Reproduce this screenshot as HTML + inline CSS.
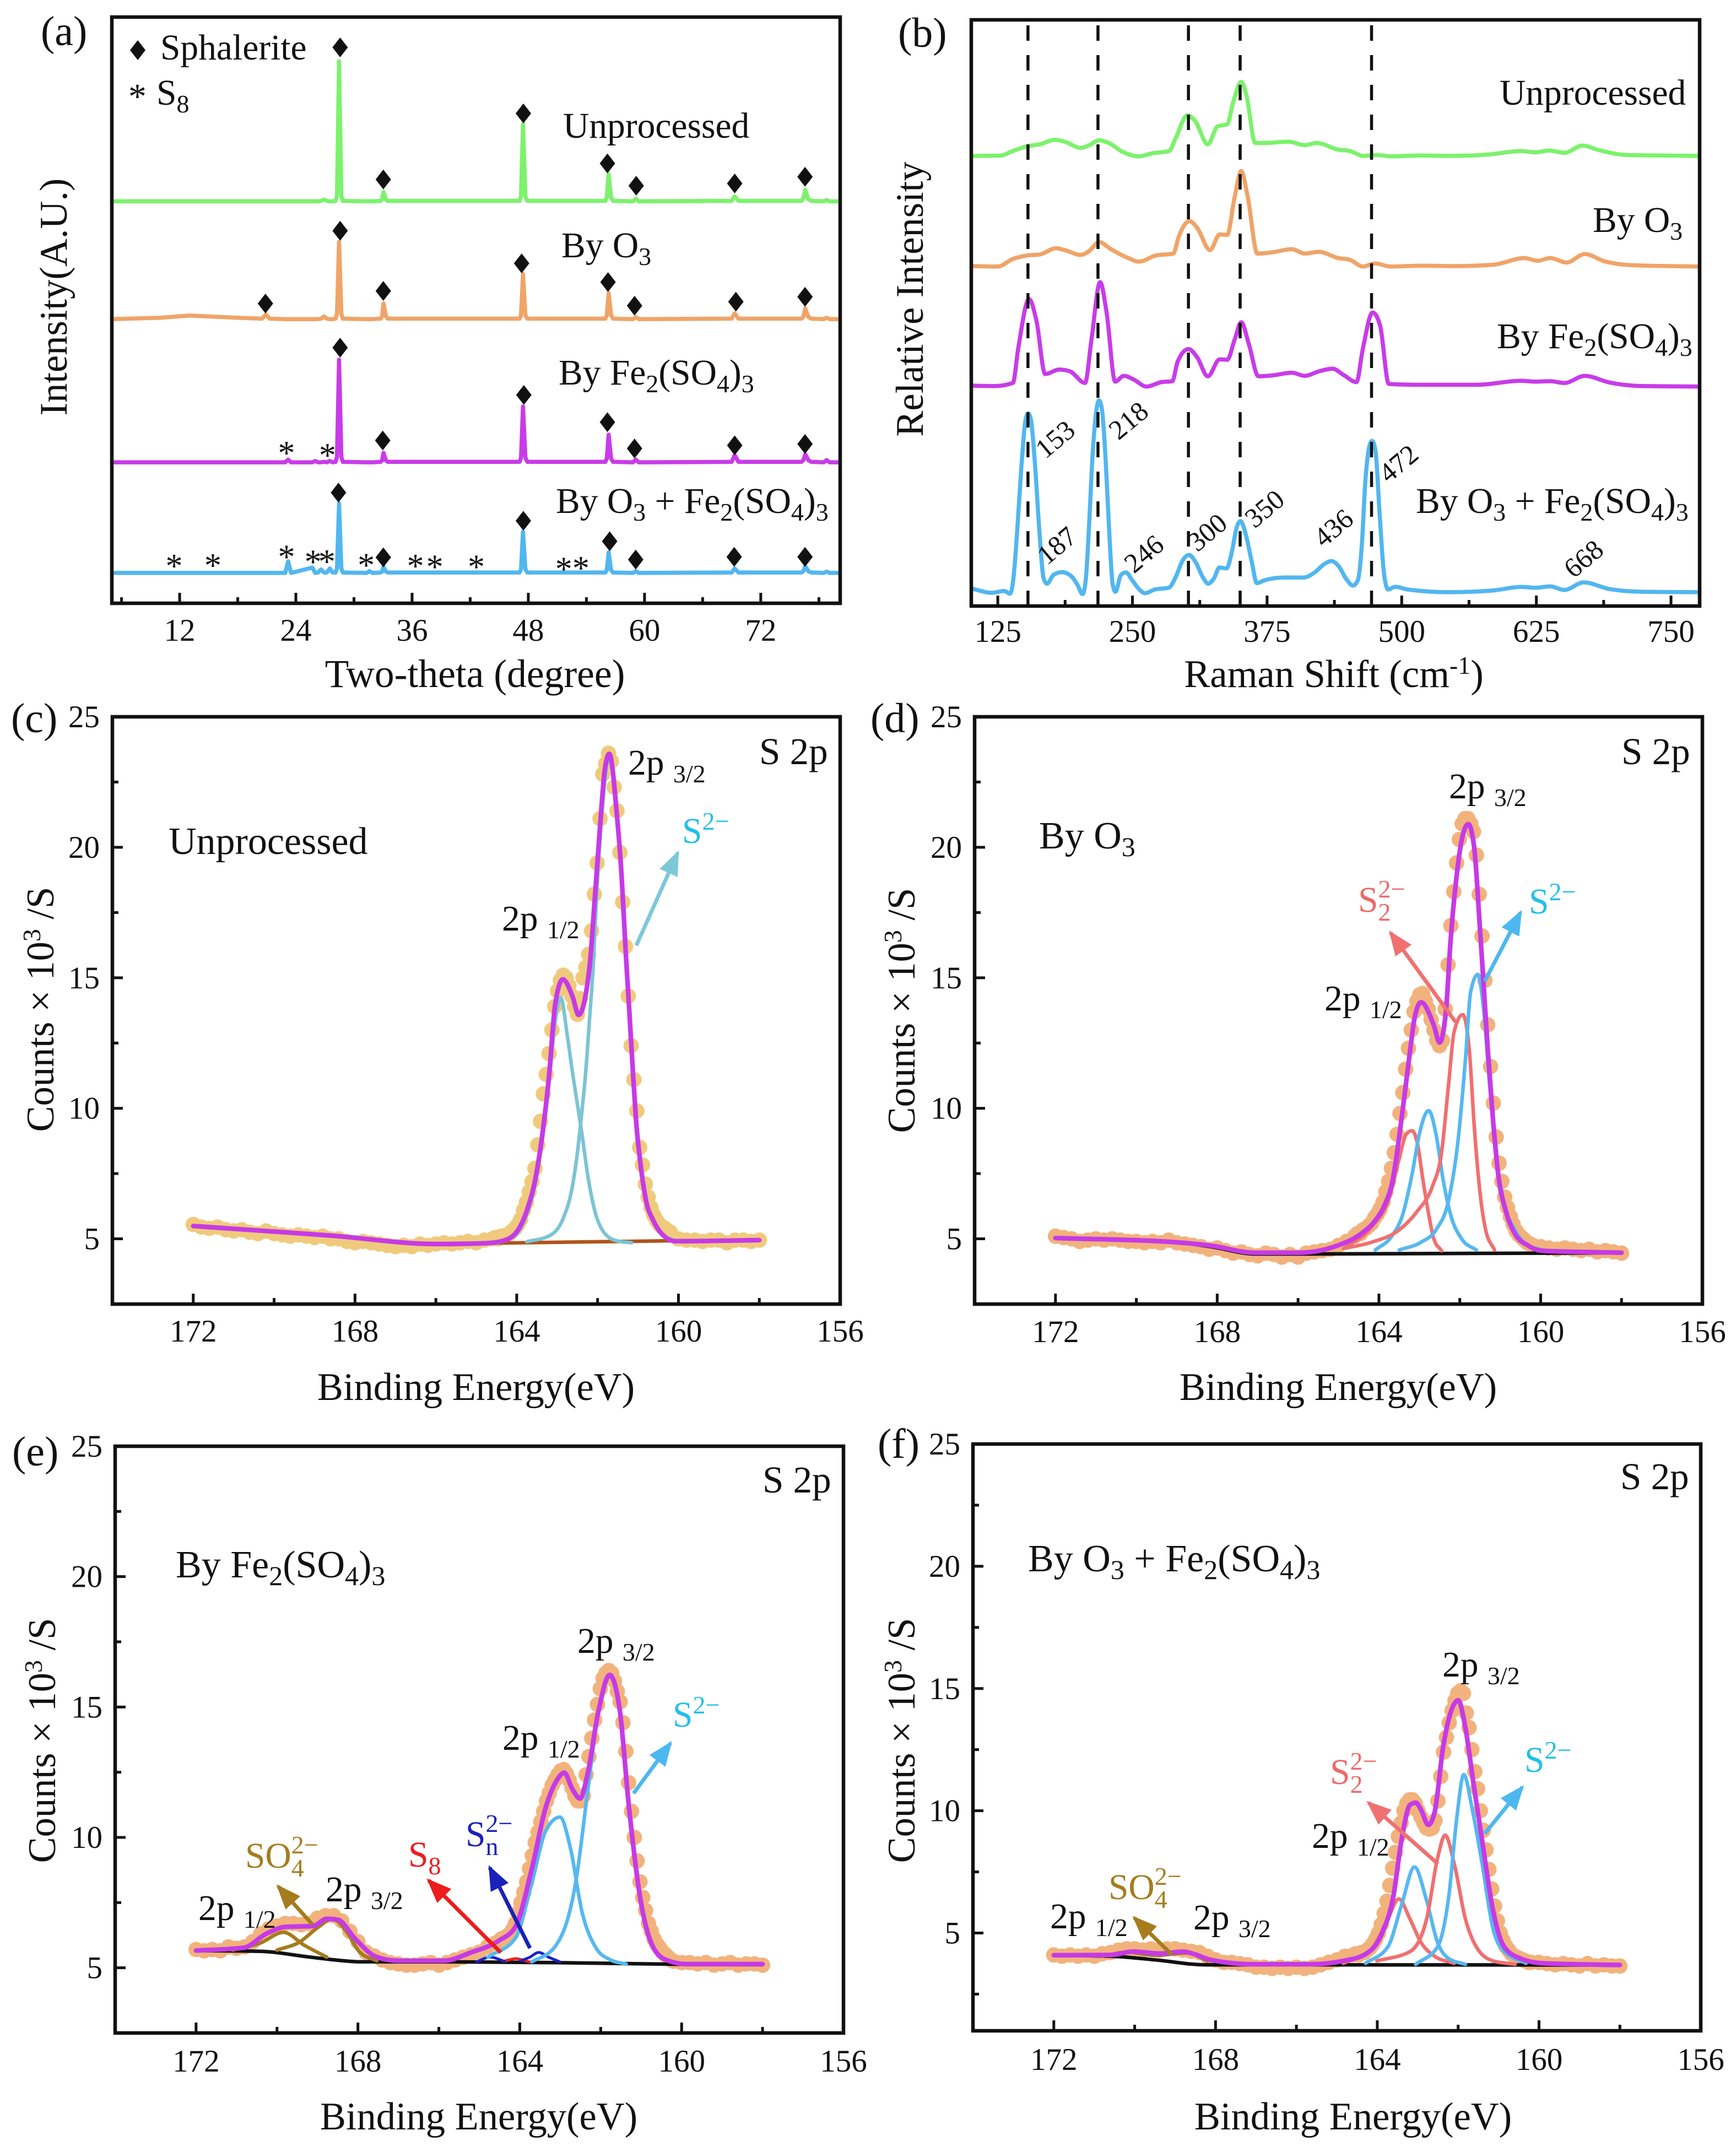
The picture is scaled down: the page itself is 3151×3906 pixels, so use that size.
<!DOCTYPE html>
<html lang="en">
<head>
<meta charset="utf-8">
<title>XRD, Raman and XPS comparison of sphalerite samples</title>
<style>
html,body{margin:0;padding:0;background:#fff;}
svg{display:block;}
text{font-family:"Liberation Serif",serif;fill:#111;}
.tick{font-size:57px;}
.title{font-size:70.5px;}
.note{font-size:65.5px;}
.sm{font-size:46px;}
.peak{font-size:50px;}
.panel{font-size:76px;}
.sample{font-size:70px;}
.sample .sm{font-size:50px;}
.s2p{font-size:69px;}
</style>
</head>
<body>
<svg id="figure" xmlns="http://www.w3.org/2000/svg" width="3151" height="3906" viewBox="0 0 3151 3906">
<defs>
<marker id="head-cyan" markerUnits="userSpaceOnUse" markerWidth="50" markerHeight="40" refX="40" refY="18" orient="auto"><path d="M0 0L45 18L0 36Z" fill="#7CC8D8"/></marker>
<marker id="head-blue" markerUnits="userSpaceOnUse" markerWidth="50" markerHeight="40" refX="40" refY="18" orient="auto"><path d="M0 0L45 18L0 36Z" fill="#4CB8F0"/></marker>
<marker id="head-pink" markerUnits="userSpaceOnUse" markerWidth="50" markerHeight="40" refX="40" refY="18" orient="auto"><path d="M0 0L45 18L0 36Z" fill="#F07070"/></marker>
<marker id="head-red" markerUnits="userSpaceOnUse" markerWidth="50" markerHeight="40" refX="40" refY="18" orient="auto"><path d="M0 0L45 18L0 36Z" fill="#EE1C1C"/></marker>
<marker id="head-navy" markerUnits="userSpaceOnUse" markerWidth="50" markerHeight="40" refX="40" refY="18" orient="auto"><path d="M0 0L45 18L0 36Z" fill="#1A22B8"/></marker>
<marker id="head-brown" markerUnits="userSpaceOnUse" markerWidth="50" markerHeight="40" refX="40" refY="18" orient="auto"><path d="M0 0L45 18L0 36Z" fill="#A57C1E"/></marker>
</defs>
<rect x="0" y="0" width="3151" height="3906" fill="#fff"/>

<!-- Panel a -->
<g id="panel-a">
<g id="a-marks"></g>
<rect x="203" y="31" width="1322" height="1064" fill="none" stroke="#111" stroke-width="6.5"/>
<g id="a-ticks"></g>
<text class="panel" x="74" y="82">(a)</text>
<text class="title" style="font-size:71.5px" x="862" y="1247" text-anchor="middle">Two-theta (degree)</text>
<text class="title" transform="translate(121 539) rotate(-90)" text-anchor="middle">Intensity(A.U.)</text>
<polygon points="250,73 264,91 250,109 236,91" fill="#111"/>
<text class="note" x="291" y="108">Sphalerite</text>
<text class="note" x="233" y="197">*</text>
<text class="note" x="284" y="190">S<tspan class="sm" dy="14">8</tspan></text>
<text class="note" x="1022" y="250">Unprocessed</text>
<text class="note" x="1019" y="467">By O<tspan class="sm" dy="14">3</tspan></text>
<text class="note" x="1014" y="698">By Fe<tspan class="sm" dy="14">2</tspan><tspan dy="-14">(SO</tspan><tspan class="sm" dy="14">4</tspan><tspan dy="-14">)</tspan><tspan class="sm" dy="14">3</tspan></text>
<text class="note" x="1009" y="931">By O<tspan class="sm" dy="14">3</tspan><tspan dy="-14"> + Fe</tspan><tspan class="sm" dy="14">2</tspan><tspan dy="-14">(SO</tspan><tspan class="sm" dy="14">4</tspan><tspan dy="-14">)</tspan><tspan class="sm" dy="14">3</tspan></text>
</g>

<!-- Panel b -->
<g id="panel-b">
<g id="b-marks"></g>
<rect x="1763" y="36" width="1322" height="1064" fill="none" stroke="#111" stroke-width="6.5"/>
<g id="b-ticks"></g>
<text class="panel" x="1630" y="85">(b)</text>
<text class="title" x="2421" y="1247" text-anchor="middle">Raman Shift (cm<tspan class="sm" dy="-24">-1</tspan><tspan dy="24">)</tspan></text>
<text class="title" transform="translate(1675 543) rotate(-90)" text-anchor="middle">Relative Intensity</text>
<text class="note" x="2722" y="190">Unprocessed</text>
<text class="note" x="2891" y="421">By O<tspan class="sm" dy="14">3</tspan></text>
<text class="note" x="2717" y="632">By Fe<tspan class="sm" dy="14">2</tspan><tspan dy="-14">(SO</tspan><tspan class="sm" dy="14">4</tspan><tspan dy="-14">)</tspan><tspan class="sm" dy="14">3</tspan></text>
<text class="note" x="2570" y="931">By O<tspan class="sm" dy="14">3</tspan><tspan dy="-14"> + Fe</tspan><tspan class="sm" dy="14">2</tspan><tspan dy="-14">(SO</tspan><tspan class="sm" dy="14">4</tspan><tspan dy="-14">)</tspan><tspan class="sm" dy="14">3</tspan></text>
<text class="peak" text-anchor="middle" transform="translate(1926 810) rotate(-40)">153</text>
<text class="peak" text-anchor="middle" transform="translate(2059 776) rotate(-40)">218</text>
<text class="peak" text-anchor="middle" transform="translate(1929 1003) rotate(-40)">187</text>
<text class="peak" text-anchor="middle" transform="translate(2087 1018) rotate(-40)">246</text>
<text class="peak" text-anchor="middle" transform="translate(2202 979) rotate(-40)">300</text>
<text class="peak" text-anchor="middle" transform="translate(2306 936) rotate(-40)">350</text>
<text class="peak" text-anchor="middle" transform="translate(2431 971) rotate(-40)">436</text>
<text class="peak" text-anchor="middle" transform="translate(2549 854) rotate(-40)">472</text>
<text class="peak" text-anchor="middle" transform="translate(2885 1027) rotate(-40)">668</text>
</g>

<!-- Panel c -->
<g id="panel-c">
<g id="c-marks"></g>
<rect x="204" y="1301" width="1321" height="1066" fill="none" stroke="#111" stroke-width="6.5"/>
<g id="c-ticks"></g>
<text class="panel" x="20" y="1329">(c)</text>
<text class="title" x="864" y="2541" text-anchor="middle">Binding Energy(eV)</text>
<text class="title" transform="translate(97 1832) rotate(-90)" text-anchor="middle">Counts × 10<tspan class="sm" dy="-24">3</tspan><tspan dy="24"> /S</tspan></text>
<text class="s2p" x="1378" y="1387">S 2p</text>
<text class="sample" x="306" y="1550">Unprocessed</text>
<text class="note" x="1140" y="1406">2p <tspan class="sm" dy="14">3/2</tspan></text>
<text class="note" x="911" y="1689">2p <tspan class="sm" dy="14">1/2</tspan></text>
<text class="note" x="1238" y="1530" style="fill:#22C0E8">S<tspan class="sm" dy="-24" style="fill:#22C0E8">2−</tspan></text>
<line x1="1155" y1="1716" x2="1230" y2="1548" stroke="#7CC8D8" stroke-width="7" marker-end="url(#head-cyan)"/>
</g>

<!-- Panel d -->
<g id="panel-d">
<g id="d-marks"></g>
<rect x="1769" y="1301" width="1321" height="1066" fill="none" stroke="#111" stroke-width="6.5"/>
<g id="d-ticks"></g>
<text class="panel" x="1580" y="1329">(d)</text>
<text class="title" x="2429" y="2541" text-anchor="middle">Binding Energy(eV)</text>
<text class="title" transform="translate(1660 1834) rotate(-90)" text-anchor="middle">Counts × 10<tspan class="sm" dy="-24">3</tspan><tspan dy="24"> /S</tspan></text>
<text class="s2p" x="2943" y="1387">S 2p</text>
<text class="sample" x="1886" y="1540">By O<tspan class="sm" dy="14">3</tspan></text>
<text class="note" x="2630" y="1449">2p <tspan class="sm" dy="14">3/2</tspan></text>
<text class="note" x="2404" y="1834">2p <tspan class="sm" dy="14">1/2</tspan></text>
<text class="note" x="2465" y="1655" style="fill:#F06868">S<tspan class="sm" dy="16" style="fill:#F06868">2</tspan><tspan class="sm" dx="-23" dy="-42" style="fill:#F06868">2−</tspan></text>
<text class="note" x="2775" y="1658" style="fill:#22C0E8">S<tspan class="sm" dy="-24" style="fill:#22C0E8">2−</tspan></text>
<line x1="2642" y1="1855" x2="2524" y2="1693" stroke="#F07070" stroke-width="7" marker-end="url(#head-pink)"/>
<line x1="2695" y1="1781" x2="2760" y2="1656" stroke="#4CB8F0" stroke-width="7" marker-end="url(#head-blue)"/>
</g>

<!-- Panel e -->
<g id="panel-e">
<g id="e-marks"></g>
<rect x="209" y="2625" width="1322" height="1065" fill="none" stroke="#111" stroke-width="6.5"/>
<g id="e-ticks"></g>
<text class="panel" x="22" y="2660">(e)</text>
<text class="title" x="869" y="3865" text-anchor="middle">Binding Energy(eV)</text>
<text class="title" transform="translate(100 3159) rotate(-90)" text-anchor="middle">Counts × 10<tspan class="sm" dy="-24">3</tspan><tspan dy="24"> /S</tspan></text>
<text class="s2p" x="1384" y="2709">S 2p</text>
<text class="sample" x="319" y="2863">By Fe<tspan class="sm" dy="14">2</tspan><tspan dy="-14">(SO</tspan><tspan class="sm" dy="14">4</tspan><tspan dy="-14">)</tspan><tspan class="sm" dy="14">3</tspan></text>
<text class="note" x="1048" y="3000">2p <tspan class="sm" dy="14">3/2</tspan></text>
<text class="note" x="912" y="3176">2p <tspan class="sm" dy="14">1/2</tspan></text>
<text class="note" x="360" y="3485">2p <tspan class="sm" dy="14">1/2</tspan></text>
<text class="note" x="591" y="3451">2p <tspan class="sm" dy="14">3/2</tspan></text>
<text class="note" x="1221" y="3134" style="fill:#22C0E8">S<tspan class="sm" dy="-24" style="fill:#22C0E8">2−</tspan></text>
<text class="note" x="845" y="3351" style="fill:#1A22B8">S<tspan class="sm" dy="16" style="fill:#1A22B8">n</tspan><tspan class="sm" dx="-23" dy="-42" style="fill:#1A22B8">2−</tspan></text>
<text class="note" x="741" y="3388" style="fill:#EE1C1C">S<tspan class="sm" dy="14" style="fill:#EE1C1C">8</tspan></text>
<text class="note" x="445" y="3390" style="fill:#A57C1E">SO<tspan class="sm" dy="16" style="fill:#A57C1E">4</tspan><tspan class="sm" dx="-23" dy="-42" style="fill:#A57C1E">2−</tspan></text>
<line x1="1150" y1="3255" x2="1217" y2="3164" stroke="#4CB8F0" stroke-width="7" marker-end="url(#head-blue)"/>
<line x1="962" y1="3536" x2="889" y2="3390" stroke="#1A22B8" stroke-width="7" marker-end="url(#head-navy)"/>
<line x1="909" y1="3544" x2="778" y2="3413" stroke="#EE1C1C" stroke-width="7" marker-end="url(#head-red)"/>
<line x1="567" y1="3493" x2="505" y2="3424" stroke="#A57C1E" stroke-width="7" marker-end="url(#head-brown)"/>
</g>

<!-- Panel f -->
<g id="panel-f">
<g id="f-marks"></g>
<rect x="1766" y="2621" width="1321" height="1065" fill="none" stroke="#111" stroke-width="6.5"/>
<g id="f-ticks"></g>
<text class="panel" x="1593" y="2646">(f)</text>
<text class="title" x="2456" y="3865" text-anchor="middle">Binding Energy(eV)</text>
<text class="title" transform="translate(1660 3159) rotate(-90)" text-anchor="middle">Counts × 10<tspan class="sm" dy="-24">3</tspan><tspan dy="24"> /S</tspan></text>
<text class="s2p" x="2941" y="2703">S 2p</text>
<text class="sample" x="1866" y="2852">By O<tspan class="sm" dy="14">3</tspan><tspan dy="-14"> + Fe</tspan><tspan class="sm" dy="14">2</tspan><tspan dy="-14">(SO</tspan><tspan class="sm" dy="14">4</tspan><tspan dy="-14">)</tspan><tspan class="sm" dy="14">3</tspan></text>
<text class="note" x="2618" y="3043">2p <tspan class="sm" dy="14">3/2</tspan></text>
<text class="note" x="2381" y="3354">2p <tspan class="sm" dy="14">1/2</tspan></text>
<text class="note" x="1906" y="3500">2p <tspan class="sm" dy="14">1/2</tspan></text>
<text class="note" x="2166" y="3502">2p <tspan class="sm" dy="14">3/2</tspan></text>
<text class="note" x="2414" y="3238" style="fill:#F06868">S<tspan class="sm" dy="16" style="fill:#F06868">2</tspan><tspan class="sm" dx="-23" dy="-42" style="fill:#F06868">2−</tspan></text>
<text class="note" x="2767" y="3216" style="fill:#22C0E8">S<tspan class="sm" dy="-24" style="fill:#22C0E8">2−</tspan></text>
<text class="note" x="2012" y="3447" style="fill:#A57C1E">SO<tspan class="sm" dy="16" style="fill:#A57C1E">4</tspan><tspan class="sm" dx="-23" dy="-42" style="fill:#A57C1E">2−</tspan></text>
<line x1="2610" y1="3383" x2="2484" y2="3272" stroke="#F07070" stroke-width="7" marker-end="url(#head-pink)"/>
<line x1="2695" y1="3328" x2="2763" y2="3244" stroke="#4CB8F0" stroke-width="7" marker-end="url(#head-blue)"/>
<line x1="2127" y1="3548" x2="2059" y2="3481" stroke="#A57C1E" stroke-width="7" marker-end="url(#head-brown)"/>
</g>
</svg>

<script>
/* ---------- XRD data ---------- */
const xrdMajorTicks = [12, 24, 36, 48, 60, 72];
const xrdMinorTicks = [6, 18, 30, 42, 54, 66, 78];
const xrdTwoTheta = [5,10,13,18,20.5,20.9,21.3,22.9,23.2,23.5,
  25.7,26,26.3,26.6,26.9,27.2,27.5,27.8,28.1,28.25,
  28.46,28.7,28.85,31.3,31.6,31.9,32.75,32.9,33.05,33.3,
  33.5,47.1,47.25,47.45,47.7,47.9,55.95,56.1,56.3,56.55,
  56.75,58.8,59.1,59.4,69,69.3,69.7,76.2,76.4,76.6,
  76.9,77.2,78.5,78.8,79.1,80];
const xrdUnprocessed = [0,0,0,0,0,0,0,0,0,0,
  0,0,0,1,4,1,0,0,1,12,
  314,12,1,0,0,0,1,4,21,4,
  1,1,10,173,10,1,1,8,61,8,
  1,0,6,0,1,11,1,1,6,26,
  5,1,0,3,0,0];
const xrdByO3 = [0,3,8,3,1,10,1,0,0,0,
  0,0,0,1,6,1,0,0,1,12,
  173,12,1,0,0,0,1,6,35,6,
  1,1,8,101,8,1,1,8,58,8,
  1,0,4,0,1,13,1,1,5,24,
  5,1,0,3,0,0];
const xrdByFe = [0,0,0,0,0,0,0,0,6,0,
  0,3,0,0,1,0,3,0,1,12,
  230,12,1,0,0,0,1,4,21,4,
  1,1,10,125,10,1,1,8,62,8,
  1,0,6,0,1,16,1,1,5,18,
  5,1,0,5,0,0];
const xrdByO3Fe = [0,0,0,0,0,0,0,0,26,0,
  12,0,1,8,1,1,10,1,1,10,
  156,10,1,0,4,0,1,3,14,3,
  1,1,8,92,8,1,1,6,46,6,
  1,0,4,0,1,10,1,1,4,15,
  4,1,0,3,0,0];
const xrdOffsets = [901, 637, 316, 68];

const diamondTwoThetaUnprocessed = [28.57,33.03,47.49,56.17,59.14,69.31,76.57];
const diamondHeightUnprocessed = [1246,950,1098,986,936,941,956];
const diamondTwoThetaO3 = [20.86,28.57,33.03,47.31,56.23,58.97,69.43,76.57];
const diamondHeightO3 = [672,835,700,762,720,667,676,687];
const diamondTwoThetaFe = [28.57,32.97,47.54,56.17,58.97,69.31,76.57];
const diamondHeightFe = [573,365,467,406,347,354,357];
const diamondTwoThetaO3Fe = [28.4,33.03,47.49,56.4,59.09,69.26,76.57];
const diamondHeightO3Fe = [248,103,185,139,98,104,104];
const starTwoTheta = [23.03,27.26,11.43,15.43,23.03,25.77,27.2,31.26,36.34,38.34,42.63,51.66,53.43];
const starHeight = [347,342,94,95,114,103,104,96,94,92,92,87,89];

/* ---------- Raman data ---------- */
const ramanMajorTicks = [125, 250, 375, 500, 625, 750];
const ramanMinorTicks = [187.5, 312.5, 437.5, 562.5, 687.5];
const ramanRefShifts = [153, 218, 302, 350, 472];
const ramanOffsets = [1009, 761, 493, 31];
const ramanUnprocessedX = [102,128,139,153,164,178,187,202,210,219,228,241,256,269,284,290,301,308,320,329,338,344,351,356,364,374,395,410,421,441,452,464,477,490,518,544,580,611,624,637,651,668,683,709,776];
const ramanUnprocessedY = [0,1,11,22,26,36,32,18,24,35,29,9,-1,6,11,39,91,79,26,66,71,124,166,134,29,29,32,24,29,14,11,0,2,-1,1,0,3,11,8,12,7,23,13,2,0];
const ramanO3X = [102,125,139,153,164,179,187,202,210,219,230,246,256,272,288,293,303,310,322,331,338,345,351,357,366,380,398,410,423,441,452,464,475,490,518,549,585,614,626,638,653,670,688,714,776];
const ramanO3Y = [1,0,17,25,27,41,37,26,35,55,39,19,11,25,29,67,102,87,37,72,71,157,214,157,29,32,39,29,33,19,15,0,7,0,2,1,4,19,13,19,9,28,12,3,0];
const ramanFeX = [102,122,139,144,154,161,169,182,192,206,212,220,226,234,242,251,263,277,287,292,302,310,320,331,338,345,351,358,367,380,398,410,423,436,446,458,464,473,480,488,495,518,570,611,624,638,651,670,693,724,776];
const ramanFeY = [1,0,7,85,195,145,27,37,33,7,105,233,165,10,23,15,-1,9,11,55,83,65,22,60,59,105,143,95,22,24,30,23,33,39,25,9,85,165,135,5,4,3,3,12,10,11,7,23,8,0,-1];
const ramanO3FeX = [101,119.4,131.1,136.3,139.5,142.9,146.8,150.7,153.3,155.9,
  159.8,163.7,167.6,170.8,176.8,184.6,193.7,199,203.7,206.8,
  209.4,213.3,217.2,219,221.7,225.1,228.5,231.6,234.2,239.4,
  243.9,249.9,256.4,261.6,270.7,283.8,290.3,296.8,302.6,308.6,
  315.1,320.3,325.6,330.8,337.3,342.5,346.4,350.4,354.3,360.8,
  365.5,372.5,390.8,409,419.5,427.3,434.7,441.7,448.2,454.8,
  459.2,462.6,466.5,470.4,472.5,475.6,479.5,483.5,487.4,493.9,
  505.6,544,585,611,624,638,651,669,693,724,
  776];
const ramanO3FeY = [8,-1.4,2.8,-3.4,30.7,133.6,277.6,384.6,401,384.6,
  277.6,133.6,30.7,19.2,39,45,34.8,16.3,-4.2,30.7,
  133.6,318.8,417.5,429.9,409.3,298.2,133.6,18.4,1,39,
  44.3,26.6,6,-2.2,6,10.1,34.8,71.9,83.4,67.8,
  34.8,19.2,30.7,55.4,53.3,92.5,141.8,159.5,137.7,67.8,
  20.4,26.6,32.8,32.8,45,61.6,69.8,57.5,30.7,15,
  26.6,92.5,257,331,339.3,318.8,174.8,43,6,12.2,
  6,0,4,12,10,13,5,22,7,1,
  0];

/* ---------- XPS data ---------- */
const xpsMajorX = [172, 168, 164, 160, 156];
const xpsMinorX = [170, 166, 162, 158];
const xpsMajorY = [5, 10, 15, 20, 25];
const xpsMinorY = [7.5, 12.5, 17.5, 22.5];
const xpsMinorYWide = [2.5, 7.5, 12.5, 17.5, 22.5];
const xpsEnergy = [172,171.8,171.6,171.4,171.2,171,170.8,170.6,170.4,170.2,
  170,169.8,169.6,169.4,169.2,169,168.8,168.6,168.4,168.2,
  168,167.8,167.6,167.4,167.2,167,166.8,166.6,166.4,166.2,
  166,165.8,165.6,165.4,165.2,165,164.8,
  164.6,164.53,164.46,164.39,164.32,164.25,164.18,164.11,164.04,163.97,
  163.9,163.83,163.76,163.69,163.62,163.55,163.48,163.41,163.34,163.27,
  163.2,163.13,163.06,162.99,162.92,162.85,162.78,162.71,162.64,162.57,
  162.5,162.43,162.36,162.29,162.22,162.15,162.08,162.01,161.94,161.87,
  161.8,161.73,161.66,161.59,161.52,161.45,161.38,161.31,161.24,161.17,
  161.1,161.03,160.96,160.89,160.82,160.75,160.68,160.61,160.54,160.47,
  160.4,160.33,160.26,160.2,
  160,159.8,159.6,159.4,159.2,159,158.8,158.6,158.4,158.2,158];
const cCounts = [5.55,5.45,5.4,5.45,5.35,5.3,5.35,5.25,5.2,5.3,
  5.2,5.15,5.1,5.15,5.1,5.05,5.1,5.0,5.0,4.9,
  4.85,4.9,4.85,4.8,4.75,4.7,4.75,4.7,4.8,4.75,
  4.8,4.85,4.8,4.85,4.9,4.85,4.95,
  5.0,5.05,5.0,5.1,5.1,5.15,5.2,5.3,5.4,5.55,
  5.75,6.1,6.4,6.8,7.2,7.7,8.6,9.5,10.55,11.3,
  12.1,13,13.9,14.5,14.9,15.1,15,14.7,14.3,13.9,
  13.6,14.2,15,15.4,15.9,16.8,18.2,19.4,21.1,22.8,
  23.2,23.6,23.3,22.3,21.4,19.8,17.9,16.2,14.3,12.4,
  11.1,9.9,8.5,7.83,7.1,6.6,6.2,5.9,5.7,5.55,
  5.45,5.4,5.3,5.25,
  5.0,4.95,4.95,4.9,4.95,4.95,4.85,4.95,4.95,4.9,4.95];
const dCounts = [5.1,5.05,5.0,4.9,4.95,5.0,4.95,5.0,4.95,4.9,
  4.9,4.85,4.9,4.85,4.95,4.85,4.8,4.75,4.7,4.6,
  4.65,4.55,4.45,4.5,4.4,4.35,4.45,4.4,4.3,4.4,
  4.3,4.45,4.5,4.55,4.6,4.75,4.9,
  5.1,5.2,5.2,5.35,5.4,5.5,5.6,5.8,5.95,6.15,
  6.4,6.8,7.2,7.7,8.3,9,9.8,10.6,11.5,12.3,
  13,13.7,14.1,14.35,14.4,14.1,13.8,13.4,13,12.6,
  12.4,12.6,13.8,15.5,17,18.3,19.4,20.3,20.9,21.1,
  21.1,20.9,20.6,19.7,18.2,16.6,14.9,13.2,11.6,10.2,
  8.9,7.9,7.2,6.6,6.2,5.85,5.55,5.3,5.15,5.05,
  4.95,4.85,4.8,4.75,
  4.7,4.65,4.6,4.65,4.6,4.55,4.6,4.5,4.55,4.5,4.45];
const eCounts = [5.7,5.65,5.7,5.65,5.8,5.75,5.8,6.0,6.3,6.5,
  6.6,6.7,6.7,6.65,6.7,6.9,7.0,7.0,6.8,6.4,
  6.0,5.6,5.45,5.3,5.2,5.15,5.1,5.1,5.15,5.2,
  5.1,5.2,5.3,5.4,5.5,5.6,5.8,
  5.95,6.0,6.1,6.15,6.2,6.3,6.45,6.7,7.1,7.5,
  7.9,8.3,8.8,9.3,9.8,10.2,10.6,11,11.4,11.7,
  12,12.2,12.4,12.55,12.6,12.45,12.2,11.9,11.6,11.4,
  11.4,11.6,12.4,13.1,13.8,14.5,15.1,15.7,16.1,16.3,
  16.4,16.3,16,15.6,15.2,14.4,13.3,12.1,11,10,
  9.1,8.3,7.7,7.2,6.7,6.4,6.1,5.9,5.75,5.6,
  5.5,5.4,5.3,5.25,
  5.2,5.2,5.15,5.2,5.1,5.15,5.2,5.1,5.15,5.15,5.1];
const fCounts = [4.1,4.05,4.1,4.05,4.1,4.05,4.15,4.2,4.3,4.35,
  4.35,4.3,4.35,4.3,4.35,4.35,4.3,4.25,4.2,4.05,
  3.9,3.8,3.8,3.75,3.7,3.6,3.6,3.55,3.6,3.55,
  3.6,3.55,3.6,3.7,3.8,3.9,4.05,
  4.1,4.15,4.1,4.2,4.2,4.3,4.4,4.55,4.75,5.0,
  5.35,5.8,6.3,6.95,7.65,8.3,8.95,9.5,10,10.3,
  10.45,10.45,10.3,10,9.75,9.5,9.3,9.25,9.3,9.6,
  10.4,11.4,12.4,13,13.6,14.1,14.5,14.8,14.9,14.8,
  14,13.4,12.5,11.6,10.9,10,9.2,8.4,7.6,6.8,
  6.1,5.5,5,4.7,4.45,4.3,4.15,4.05,4,3.95,
  3.9,3.85,3.8,3.8,
  3.8,3.75,3.7,3.75,3.7,3.65,3.75,3.65,3.7,3.65,3.65];

/* envelopes */
const cEnvE = [172,168.56,166,164.8,164.35,164.02,163.75,163.53,163.34,163.2,163.05,162.86,162.61,162.47,162.2,162.07,161.93,161.82,161.71,161.52,161.41,161.3,161.21,161.12,161.05,160.93,160.8,160.62,160.4,160.07,158];
const cEnvC = [5.49,5.12,4.8,4.83,4.92,5.23,6.08,7.37,9.31,11.26,13.96,14.94,14.24,13.58,15.4,18,21,23,23.58,21.2,19,15.9,13.6,11.26,9.57,7.76,6.46,5.7,5.17,4.91,4.95];
const dEnvE = [172,169.12,168.16,167.07,165.97,165.01,164.41,164.09,163.86,163.66,163.5,163.37,163.23,163.11,162.96,162.64,162.5,162.34,162.23,162.09,161.95,161.79,161.64,161.52,161.41,161.3,161.18,161.05,160.86,160.64,160.32,159.95,158];
const dEnvC = [5.03,4.88,4.74,4.47,4.47,4.75,5.23,5.7,6.29,7.24,8.9,10.45,12.2,13.53,14.06,13.17,12.52,13.77,16.38,18.75,20.3,20.89,19.94,17.33,14.7,12.1,9.6,7.48,6.06,5.2,4.75,4.54,4.47];
const eEnvE = [172,170.82,170.27,169.79,169.11,168.77,168.49,168.08,167.53,166.99,165.89,165.2,164.52,164.11,163.7,163.36,163.08,162.9,162.7,162.51,162.33,162.05,161.78,161.53,161.3,161.03,160.75,160.41,159.86,158];
const eEnvC = [5.66,5.77,6.3,6.57,6.6,6.88,6.84,6.13,5.41,5.27,5.27,5.59,6.04,6.57,8.81,11.14,12.2,12.48,11.85,11.49,12.39,14.89,16.23,14.89,11.14,7.74,5.95,5.32,5.14,5.14];
const fEnvE = [172,170.59,170.04,169.36,168.81,168.53,168.12,167.03,165.66,164.84,164.29,163.88,163.6,163.4,163.19,163.05,162.92,162.74,162.58,162.37,162.16,162,161.82,161.62,161.41,161.14,160.86,160.45,159.9,158];
const fEnvC = [4.09,4.1,4.24,4.16,4.24,4.14,3.9,3.72,3.72,3.86,4.14,5,6.52,8.81,10.24,10.33,10.05,9.42,9.95,12.62,14.14,14.52,13.38,11.1,8.81,5.95,4.43,3.95,3.76,3.69];

/* backgrounds */
const cBgE = [164.8,160];
const cBgC = [4.83,4.93];
const dBgE = [172,169.12,168.16,167.07,165.5,160,158];
const dBgC = [5.03,4.88,4.7,4.42,4.42,4.45,4.47];
const eBgE = [172,170.41,169.18,168.36,167.95,165.89,163.15,159.86,158];
const eBgC = [5.66,5.63,5.41,5.27,5.23,5.23,5.2,5.13,5.12];
const fBgE = [172,170.59,169.49,168.26,165.66,158];
const fBgC = [4.09,4.05,3.9,3.7,3.7,3.69];

/* components */
const cPeak1E = [164.5,164.02,163.75,163.53,163.34,163.2,163.05,162.91,162.75,162.61,162.48,162.39,162.25,162.07,161.84,161.52,161.16];
const cPeak1C = [4.82,5.15,5.95,7.2,9.1,11,13.3,14.24,12.8,11.26,9.97,9.06,7.5,6.08,5.24,4.92,4.85];
const cPeak2E = [163.75,163.2,162.84,162.61,162.48,162.39,162.3,162.21,162.11,162.02,161.89,161.71,161.52,161.41,161.3,161.21,161.12,161.05,160.93,160.8,160.62,160.4,160.07];
const cPeak2C = [4.89,5.11,5.82,7.12,8.54,9.84,11.26,13.2,15.4,18.25,21.35,23.42,21.2,19,15.9,13.6,11.26,9.57,7.76,6.46,5.7,5.17,4.91];

const dRed1E = [164.87,164.18,163.73,163.5,163.32,163.18,163.05,162.91,162.77,162.64,162.45];
const dRed1C = [4.63,5.46,6.65,8.07,9.02,9.14,8.67,7.24,5.94,4.99,4.54];
const dBlue1E = [164.09,163.68,163.41,163.18,163,162.77,162.59,162.41,162.23,161.95,161.59];
const dBlue1C = [4.57,5.11,5.94,7.48,9.02,9.91,9.02,7.24,5.94,4.99,4.57];
const dRed2E = [164.87,164.18,163.5,163.05,162.68,162.45,162.27,162.14,161.93,161.77,161.64,161.5,161.36,161.14];
const dRed2C = [4.63,4.87,5.34,6.06,7,8.31,11.04,12.94,13.59,12.34,9.26,6.77,5.34,4.57];
const dBlue2E = [163.5,162.96,162.59,162.27,162.05,161.86,161.73,161.55,161.41,161.27,161.09,160.91,160.64,160.32,159.95];
const dBlue2C = [4.57,4.87,5.34,6.53,8.67,11.87,14.48,15.13,13.77,11.04,8.07,6.41,5.34,4.75,4.57];

const eBlue1E = [164.79,164.11,163.7,163.36,163.01,162.74,162.47,162.12,161.78,161.37];
const eBlue1C = [5.41,6.13,8.27,10.24,10.78,9.53,7.2,5.77,5.32,5.14];
const eBlue2E = [163.7,163.15,162.6,162.33,162.05,161.78,161.53,161.3,161.03,160.75,160.41,160];
const eBlue2C = [5.23,5.77,8.45,11.67,14.89,16.18,14.89,11.14,7.74,5.95,5.32,5.14];
const eSulf1E = [171.1,170.41,169.84,169.32,168.77];
const eSulf1C = [5.68,5.95,6.36,5.86,5.41];
const eSulf2E = [170,169.45,168.97,168.63,168.29,167.95,167.53];
const eSulf2C = [5.68,5.98,6.57,6.88,6.4,5.59,5.27];
const eSn1E = [163.97,163.76,163.53,163.29,163.01];
const eSn1C = [5.27,5.4,5.59,5.41,5.23];
const eSn2E = [165.07,164.73,164.38];
const eSn2C = [5.23,5.41,5.25];
const eS8E = [164.4,164.1,163.75];
const eS8C = [5.25,5.35,5.22];

const fRed1E = [164.84,164.15,163.74,163.47,163.19,162.92,162.58,162.1];
const fRed1C = [3.76,4.33,5.57,6.39,5.57,4.62,4.05,3.76];
const fBlue1E = [164.29,163.74,163.4,163.08,162.78,162.51,162.23,161.82];
const fBlue1C = [3.76,4.43,6.14,7.7,6.33,4.62,3.95,3.72];
const fRed2E = [164.01,163.19,162.78,162.51,162.32,162.1,161.82,161.55,161.14,160.59];
const fRed2C = [3.86,4.24,5.57,8.05,9,7.86,5.57,4.43,3.86,3.72];
const fBlue2E = [163.05,162.51,162.23,162.03,161.86,161.66,161.41,161.14,160.86,160.32];
const fBlue2C = [3.72,4.43,6.52,9.76,11.48,10.14,7.86,5.19,4.24,3.76];
const fSulfE = [170.8,170.2,169.5,168.7,168.2];
const fSulfC = [4.05,4.22,4.08,4.18,3.85];

/* ---------- drawing helpers ---------- */
const NS = 'http://www.w3.org/2000/svg';
const COLORS = {green:'#7CF26C', orange:'#F0A468', purple:'#C83CE8', blue:'#52B6F0', fit:'#C63AE6',
  teal:'#7CC4D4', red:'#F07070', sky:'#56B8F0', brown:'#A57C1E', navy:'#1A22C8', crimson:'#E82020', bgBrown:'#B0551A', black:'#111'};

function linear(d0, d1, r0, r1) { return v => r0 + (v - d0) * (r1 - r0) / (d1 - d0); }

/* monotone cubic path through the given pixel points */
function smoothPath(xs, ys) {
  const n = xs.length;
  const h = [], s = [], m = [];
  for (let i = 0; i < n - 1; i++) {
    h[i] = Math.max(xs[i + 1] - xs[i], 0.001);
    s[i] = (ys[i + 1] - ys[i]) / h[i];
  }
  m[0] = s[0];
  m[n - 1] = s[n - 2];
  for (let i = 1; i < n - 1; i++) {
    if (s[i - 1] * s[i] <= 0) { m[i] = 0; continue; }
    const p = (s[i - 1] * h[i] + s[i] * h[i - 1]) / (h[i - 1] + h[i]);
    m[i] = Math.sign(s[i]) * Math.min(Math.abs(s[i - 1]), Math.abs(s[i]), 0.5 * Math.abs(p)) * 2;
  }
  let d = 'M' + xs[0].toFixed(1) + ' ' + ys[0].toFixed(1);
  for (let i = 0; i < n - 1; i++) {
    d += 'C' + (xs[i] + h[i] / 3).toFixed(1) + ' ' + (ys[i] + m[i] * h[i] / 3).toFixed(1) + ' ' +
      (xs[i + 1] - h[i] / 3).toFixed(1) + ' ' + (ys[i + 1] - m[i + 1] * h[i] / 3).toFixed(1) + ' ' +
      xs[i + 1].toFixed(1) + ' ' + ys[i + 1].toFixed(1);
  }
  return d;
}

function addPath(group, d, color, width, name) {
  const el = document.createElementNS(NS, 'path');
  el.setAttribute('d', d);
  el.setAttribute('fill', 'none');
  el.setAttribute('stroke', color);
  el.setAttribute('stroke-width', width);
  el.setAttribute('stroke-linejoin', 'round');
  el.setAttribute('stroke-linecap', 'round');
  
  
  group.appendChild(el);
  return el;
}

function addTick(group, x1, y1, x2, y2, name) {
  const el = document.createElementNS(NS, 'line');
  el.setAttribute('x1', x1);
  el.setAttribute('y1', y1);
  el.setAttribute('x2', x2);
  el.setAttribute('y2', y2);
  el.setAttribute('stroke', '#111');
  el.setAttribute('stroke-width', 5);
  
  
  group.appendChild(el);
}

function addLabel(group, x, y, str, anchor, name) {
  const el = document.createElementNS(NS, 'text');
  el.setAttribute('x', x);
  el.setAttribute('y', y);
  el.setAttribute('class', 'tick');
  el.setAttribute('text-anchor', anchor);
  
  
  el.textContent = str;
  group.appendChild(el);
}

function drawXAxis(group, xScale, majors, minors, bottom, labelY) {
  majors.forEach(v => {
    addTick(group, xScale(v), bottom, xScale(v), bottom - 19, 'x-major-tick');
    addLabel(group, xScale(v), labelY, String(v), 'middle', 'x-tick-label');
  });
  minors.forEach(v => addTick(group, xScale(v), bottom, xScale(v), bottom - 11, 'x-minor-tick'));
}

function drawYAxis(group, yScale, majors, minors, left) {
  majors.forEach(v => {
    addTick(group, left, yScale(v), left + 19, yScale(v), 'y-major-tick');
    addLabel(group, left - 23, yScale(v) + 19, String(v), 'end', 'y-tick-label');
  });
  minors.forEach(v => addTick(group, left, yScale(v), left + 11, yScale(v), 'y-minor-tick'));
}

function addDiamond(group, x, y) {
  const el = document.createElementNS(NS, 'polygon');
  el.setAttribute('points', x + ',' + (y - 18) + ' ' + (x + 14) + ',' + y + ' ' + x + ',' + (y + 18) + ' ' + (x - 14) + ',' + y);
  el.setAttribute('fill', '#111');
  
  
  group.appendChild(el);
}

/* ---------- panel a ---------- */
(function () {
  const marks = document.getElementById('a-marks');
  const ticks = document.getElementById('a-ticks');
  const x = linear(5, 80.2, 203, 1525);
  const y = linear(0, 1314, 1095, 31);
  const series = [xrdUnprocessed, xrdByO3, xrdByFe, xrdByO3Fe];
  const colors = [COLORS.green, COLORS.orange, COLORS.purple, COLORS.blue];
  const names = ['xrd-line-unprocessed', 'xrd-line-by-o3', 'xrd-line-by-fe2so43', 'xrd-line-by-o3-fe2so43'];
  series.forEach((vals, s) => {
    const d = vals.map((v, i) => (i ? 'L' : 'M') + x(xrdTwoTheta[i]).toFixed(1) + ' ' + y(v + xrdOffsets[s]).toFixed(1)).join('');
    addPath(marks, d, colors[s], 7.5, names[s]);
  });
  [[diamondTwoThetaUnprocessed, diamondHeightUnprocessed], [diamondTwoThetaO3, diamondHeightO3],
   [diamondTwoThetaFe, diamondHeightFe], [diamondTwoThetaO3Fe, diamondHeightO3Fe]].forEach(pair => {
    pair[0].forEach((t, i) => addDiamond(marks, x(t), y(pair[1][i])));
  });
  starTwoTheta.forEach((t, i) => {
    const el = document.createElementNS(NS, 'text');
    el.setAttribute('x', x(t));
    el.setAttribute('y', y(starHeight[i]) + 29);
    el.setAttribute('text-anchor', 'middle');
    el.setAttribute('font-size', '62');
    
    
    el.textContent = '*';
    marks.appendChild(el);
  });
  drawXAxis(ticks, x, xrdMajorTicks, xrdMinorTicks, 1095, 1163);
})();

/* ---------- panel b ---------- */
(function () {
  const marks = document.getElementById('b-marks');
  const ticks = document.getElementById('b-ticks');
  const x = linear(100.4, 776.6, 1763, 3085);
  const y = linear(0, 1314, 1100, 36);
  const pairs = [[ramanUnprocessedX, ramanUnprocessedY], [ramanO3X, ramanO3Y], [ramanFeX, ramanFeY], [ramanO3FeX, ramanO3FeY]];
  const colors = [COLORS.green, COLORS.orange, COLORS.purple, COLORS.blue];
  const names = ['raman-line-unprocessed', 'raman-line-by-o3', 'raman-line-by-fe2so43', 'raman-line-by-o3-fe2so43'];
  pairs.forEach((p, s) => {
    addPath(marks, smoothPath(p[0].map(v => x(v)), p[1].map(v => y(v + ramanOffsets[s]))), colors[s], 7.5, names[s]);
  });
  ramanRefShifts.forEach(v => {
    const el = document.createElementNS(NS, 'line');
    el.setAttribute('x1', x(v));
    el.setAttribute('x2', x(v));
    el.setAttribute('y1', 36);
    el.setAttribute('y2', 1100);
    el.setAttribute('stroke', '#111');
    el.setAttribute('stroke-width', 5.5);
    el.setAttribute('stroke-dasharray', '28 26');
    el.setAttribute('stroke-dashoffset', '44');
    
    
    marks.appendChild(el);
  });
  drawXAxis(ticks, x, ramanMajorTicks, ramanMinorTicks, 1100, 1165);
})();

/* ---------- XPS panels ---------- */
function xpsPanel(key, left, right, top, bottom, yMin, minorY, labelY, counts, markerColor, drawFits) {
  const marks = document.getElementById(key + '-marks');
  const ticks = document.getElementById(key + '-ticks');
  const x = linear(174, 156, left, right);
  const y = linear(yMin, 25, bottom, top);
  counts.forEach((c, i) => {
    const el = document.createElementNS(NS, 'circle');
    el.setAttribute('cx', x(xpsEnergy[i]).toFixed(1));
    el.setAttribute('cy', y(c).toFixed(1));
    el.setAttribute('r', 14);
    el.setAttribute('fill', markerColor);
    
    
    marks.appendChild(el);
  });
  const line = (es, cs, color, width, name) => addPath(marks, smoothPath(es.map(v => x(v)), cs.map(v => y(v))), color, width, name);
  drawFits(line);
  drawXAxis(ticks, x, xpsMajorX, xpsMinorX, bottom, labelY);
  drawYAxis(ticks, y, xpsMajorY, minorY, left);
}

xpsPanel('c', 204, 1525, 1301, 2367, 2.5, xpsMinorY, 2435, cCounts, '#F0CA7C', line => {
  line(cBgE, cBgC, COLORS.bgBrown, 6.5, 'background-line');
  line(cPeak1E, cPeak1C, COLORS.teal, 6.5, 'fit-s2-2p12');
  line(cPeak2E, cPeak2C, COLORS.teal, 6.5, 'fit-s2-2p32');
  line(cEnvE, cEnvC, COLORS.fit, 8.5, 'fit-envelope');
});
xpsPanel('d', 1769, 3090, 1301, 2367, 2.5, xpsMinorY, 2436, dCounts, '#F2B27C', line => {
  line(dBgE, dBgC, COLORS.black, 6.5, 'background-line');
  line(dRed1E, dRed1C, COLORS.red, 6.5, 'fit-s22-2p12');
  line(dBlue1E, dBlue1C, COLORS.sky, 6.5, 'fit-s2-2p12');
  line(dRed2E, dRed2C, COLORS.red, 6.5, 'fit-s22-2p32');
  line(dBlue2E, dBlue2C, COLORS.sky, 6.5, 'fit-s2-2p32');
  line(dEnvE, dEnvC, COLORS.fit, 8.5, 'fit-envelope');
});
xpsPanel('e', 209, 1531, 2625, 3690, 2.5, xpsMinorY, 3760, eCounts, '#F2B27C', line => {
  line(eBgE, eBgC, COLORS.black, 6.5, 'background-line');
  line(eSulf1E, eSulf1C, COLORS.brown, 6.5, 'fit-so4-2p12');
  line(eSulf2E, eSulf2C, COLORS.brown, 6.5, 'fit-so4-2p32');
  line(eS8E, eS8C, COLORS.crimson, 5, 'fit-s8');
  line(eSn1E, eSn1C, COLORS.navy, 5, 'fit-sn-main');
  line(eSn2E, eSn2C, COLORS.navy, 5, 'fit-sn-minor');
  line(eBlue1E, eBlue1C, COLORS.sky, 6.5, 'fit-s2-2p12');
  line(eBlue2E, eBlue2C, COLORS.sky, 6.5, 'fit-s2-2p32');
  line(eEnvE, eEnvC, COLORS.fit, 8.5, 'fit-envelope');
});
xpsPanel('f', 1766, 3087, 2621, 3686, 1, xpsMinorYWide, 3757, fCounts, '#F2B27C', line => {
  line(fBgE, fBgC, COLORS.black, 6.5, 'background-line');
  line(fSulfE, fSulfC, COLORS.brown, 6, 'fit-so4');
  line(fRed1E, fRed1C, COLORS.red, 6.5, 'fit-s22-2p12');
  line(fBlue1E, fBlue1C, COLORS.sky, 6.5, 'fit-s2-2p12');
  line(fRed2E, fRed2C, COLORS.red, 6.5, 'fit-s22-2p32');
  line(fBlue2E, fBlue2C, COLORS.sky, 6.5, 'fit-s2-2p32');
  line(fEnvE, fEnvC, COLORS.fit, 8.5, 'fit-envelope');
});
</script>
</body>
</html>
